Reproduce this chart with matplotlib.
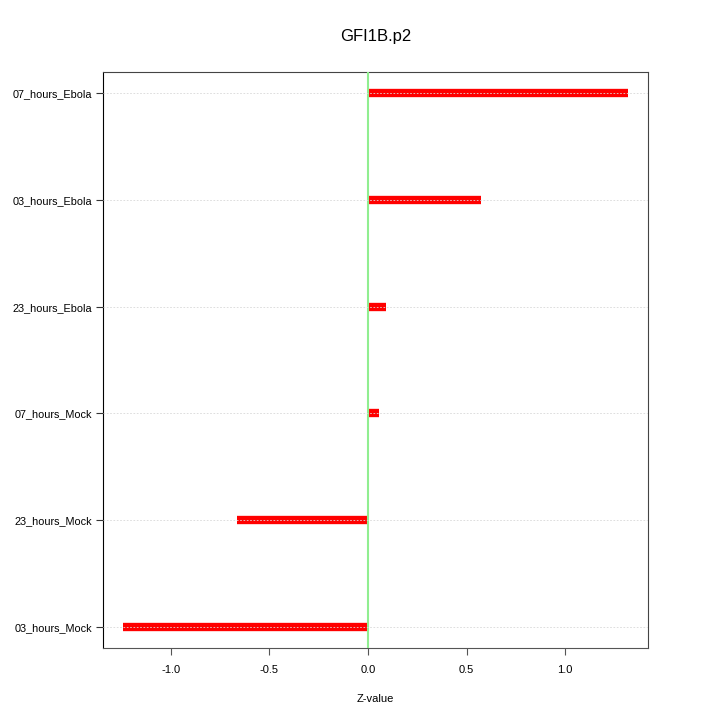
import numpy as np
import matplotlib
matplotlib.use('Agg')
import matplotlib.pyplot as plt

plt.rcParams['font.family'] = ['Liberation Sans', 'DejaVu Sans']

categories = ['03_hours_Mock', '23_hours_Mock', '07_hours_Mock',
              '23_hours_Ebola', '03_hours_Ebola', '07_hours_Ebola']
zvalues = [-1.242, -0.662, 0.056, 0.092, 0.575, 1.318]
xticks = [-1.0, -0.5, 0.0, 0.5, 1.0]

fig = plt.figure(figsize=(7.2, 7.2), dpi=100)
ax = fig.add_axes([0.143, 0.1, 0.757, 0.8])

ypos = np.arange(1, len(categories) + 1)
ax.hlines(ypos, 0, zvalues, color='red', lw=6, zorder=2)
ax.axvline(0, color='#90ee90', lw=1.5, zorder=3)
for y in ypos:
    ax.axhline(y, color='#d8d8d8', lw=0.6, ls=(0, (2, 2)), zorder=4)

lo, hi = min(zvalues), max(zvalues)
pad = (hi - lo) * 0.04
ax.set_xlim(lo - pad, hi + pad)
ax.set_ylim(1 - 0.2, len(categories) + 0.2)
ax.set_yticks(ypos)
ax.set_yticklabels(categories, fontsize=7.8)
ax.set_xticks(xticks)
ax.set_xticklabels(['%.1f' % v for v in xticks], fontsize=8)
ax.tick_params(axis='x', length=5, pad=7, color='#555555')
ax.tick_params(axis='y', length=5, pad=3, color='#333333')
ax.set_xlabel('Z-value', fontsize=8, labelpad=14)
ax.set_title('GFI1B.p2', fontsize=12, pad=22)

ax.spines['left'].set_color('black')
ax.spines['bottom'].set_color('#555555')
ax.spines['top'].set_color('#444444')
ax.spines['right'].set_color('#444444')

fig.savefig('out.png', dpi=100)
